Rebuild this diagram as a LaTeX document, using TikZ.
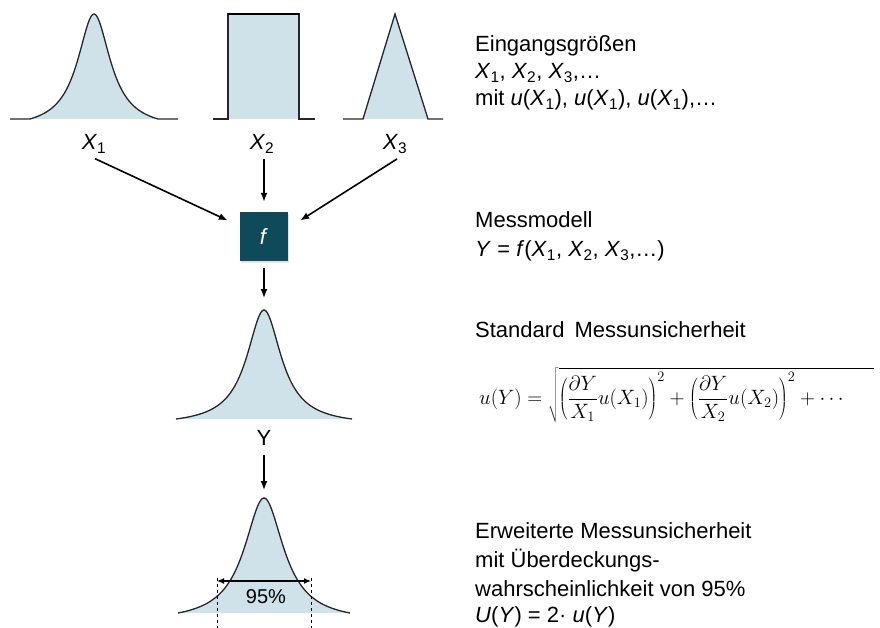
\documentclass[tikz,border=0pt]{standalone}
\usepackage{fontspec}
\setmainfont{Liberation Sans}
\usetikzlibrary{arrows.meta,shadows}
\definecolor{fillblue}{RGB}{207,226,233}
\definecolor{boxteal}{RGB}{14,74,90}
\newcommand\Xsub[1]{\textit{X}\textsubscript{#1}}
\begin{document}
\begin{tikzpicture}[x=1pt,y=-1pt,
  declare function={lor(\x,\g)=1/(1+(\x/\g)*(\x/\g));
                    pk(\x,\g,\r)=(lor(\x,\g)-lor(\r,\g))/(1-lor(\r,\g));},
  curveline/.style={line width=1.3pt, draw=black!85},
  arr/.style={-{Latex[length=9pt,width=7pt]}, line width=1.6pt},
  txt/.style={anchor=base west, inner sep=0pt, font=\fontsize{22}{27}\selectfont},
  lbl/.style={anchor=base, inner sep=0pt, font=\fontsize{22}{27}\selectfont},
  fboxstyle/.style={fill=boxteal, text=white, minimum width=48pt, minimum height=49pt,
     inner sep=0pt, font=\fontsize{22}{27}\selectfont,
     drop shadow={shadow xshift=0.5pt, shadow yshift=-2pt, opacity=0.18, fill=black!60}}
]
\useasboundingbox (0,0) rectangle (880,628);

% X1 distribution
\fill[fillblue] plot[domain=-64:64, samples=120, smooth] ({94+\x},{119-105*pk(\x,20,64)}) -- cycle;
\draw[curveline] (10,119) -- plot[domain=-64:64, samples=120, smooth] ({94+\x},{119-105*pk(\x,20,64)}) -- (178,119);
% X2 distribution
\fill[fillblue] (228,14) rectangle (299,119);
\draw[curveline] (213,119) -- (228,119) -- (228,14) -- (299,14) -- (299,119) -- (315,119);
\draw[line width=1.8pt] (228,14) -- (299,14);
% X3 distribution
\fill[fillblue] (363,119) -- (395,14) -- (428,119) -- cycle;
\draw[curveline] (343,119) -- (363,119) -- (395,14) -- (428,119) -- (443,119);

% labels
\node[lbl] (lx1) at (94,150) {\Xsub{1}};
\node[lbl] (lx2) at (262,150) {\Xsub{2}};
\node[lbl] (lx3) at (395,150) {\Xsub{3}};

% model box
\node[fboxstyle] (f) at (264,236.5) {\textit{f}};

\draw[arr] ([xshift=1pt,yshift=-5pt]lx1.south) -- ([xshift=-12pt,yshift=16pt]f.west);
\draw[arr] ([yshift=-5pt]lx2.south -| f.north) -- ([yshift=10pt]f.north);
\draw[arr] ([xshift=2pt,yshift=-5pt]lx3.south) -- ([xshift=12pt,yshift=16pt]f.east);

% Y distribution
\coordinate (ypk) at (264,310);
\fill[fillblue] plot[domain=-88:88, samples=140, smooth] ({264+\x},{419-109*pk(\x,21,88)}) -- cycle;
\draw[curveline] plot[domain=-88:88, samples=140, smooth] ({264+\x},{419-109*pk(\x,21,88)});
\draw[arr] ([yshift=-7pt]f.south) -- ([yshift=12pt]ypk);
\node[lbl] (ly) at (264,445) {Y};

% expanded distribution
\coordinate (bpk) at (264,498);
\fill[fillblue] plot[domain=-86:86, samples=140, smooth] ({264+\x},{613-115*pk(\x,24,86)}) -- cycle;
\draw[curveline] plot[domain=-86:86, samples=140, smooth] ({264+\x},{613-115*pk(\x,24,86)});
\draw[arr] ([yshift=-10pt]ly.south) -- ([yshift=8pt]bpk);
\coordinate (dl) at (217,581);
\coordinate (dr) at (311,581);
\coordinate (dlb) at (217,628);
\coordinate (drb) at (311,628);
\draw[dashed, line width=1pt] ([yshift=3pt]dl) -- (dlb);
\draw[dashed, line width=1pt] ([yshift=3pt]dr) -- (drb);
\draw[{Latex[length=7pt,width=6pt]}-{Latex[length=7pt,width=6pt]}, line width=1.2pt] (dl) -- (dr);
\node[lbl, font=\fontsize{20}{24}\selectfont] (p95) at (266,603) {95\%};

% right-hand texts
\node[txt] (e1) at (475,52) {Eingangsgrößen};
\node[txt] (e2) at (475,79) {\Xsub{1}, \Xsub{2}, \Xsub{3},…};
\node[txt] (e3) at (475,106) {mit \textit{u}(\Xsub{1}), \textit{u}(\Xsub{1}), \textit{u}(\Xsub{1}),…};

\node[txt] (m1) at (475,228) {Messmodell};
\node[txt] (m2) at (475,257) {\textit{Y} = \textit{f}(\Xsub{1}, \Xsub{2}, \Xsub{3},…)};

\node[txt] (s1) at (475,337) {Standard\hspace{4pt} Messunsicherheit};
\node[anchor=west, inner sep=0pt, font=\fontsize{20.5}{24}\selectfont] (fm) at (479,395)
  {$\displaystyle u(Y)=\sqrt{\left(\frac{\partial Y}{X_1}u(X_1)\right)^{2}+\left(\frac{\partial Y}{X_2}u(X_2)\right)^{2}+\cdots\hspace{30pt}}$};

\node[txt] (r1) at (475,538) {Erweiterte Messunsicherheit};
\node[txt] (r2) at (475,567) {mit Überdeckungs-};
\node[txt] (r3) at (475,596) {wahrscheinlichkeit von 95\%};
\node[txt] (r4) at (475,622) {\textit{U}(\textit{Y}) = 2· \textit{u}(\textit{Y})};
\end{tikzpicture}
\end{document}
